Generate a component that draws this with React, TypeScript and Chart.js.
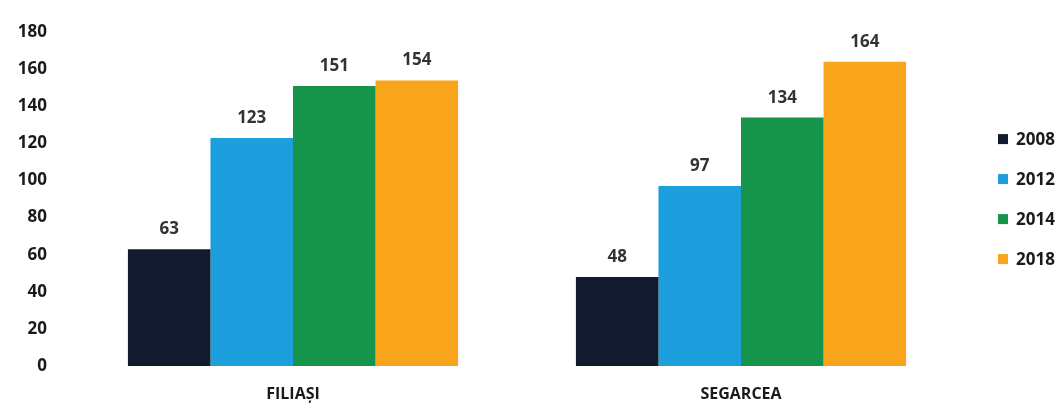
import React, { useEffect, useRef } from "react";
import { Chart, registerables } from "chart.js";

Chart.register(...registerables);

const categories = ["FILIAȘI", "SEGARCEA"];
const seriesNames = ["2008", "2012", "2014", "2018"];
const values2008 = [63, 48];
const values2012 = [123, 97];
const values2014 = [151, 134];
const values2018 = [154, 164];
const seriesColors = ["#111a2e", "#1d9fdd", "#15954b", "#f9a51b"];
const yTicks = [0, 20, 40, 60, 80, 100, 120, 140, 160, 180];

const FONT = "'Open Sans', 'DejaVu Sans', sans-serif";

const valueLabels = {
  id: "valueLabels",
  afterDatasetsDraw(chart: any) {
    const ctx = chart.ctx;
    ctx.save();
    ctx.font = `bold 17px ${FONT}`;
    ctx.fillStyle = "#333333";
    ctx.textAlign = "center";
    ctx.textBaseline = "alphabetic";
    chart.data.datasets.forEach((ds: any, i: number) => {
      const meta = chart.getDatasetMeta(i);
      meta.data.forEach((el: any, j: number) => {
        ctx.fillText(String(ds.data[j]), el.x, el.y - 15);
      });
    });
    ctx.restore();
  },
};

const sideLegend = {
  id: "sideLegend",
  afterDraw(chart: any) {
    const ctx = chart.ctx;
    const area = chart.chartArea;
    const n = chart.data.datasets.length;
    const spacing = 40;
    const midY = (area.top + area.bottom) / 2;
    const startY = midY - ((n - 1) * spacing) / 2;
    const boxX = area.right + 33;
    ctx.save();
    ctx.font = `bold 17px ${FONT}`;
    ctx.textAlign = "left";
    ctx.textBaseline = "middle";
    chart.data.datasets.forEach((ds: any, i: number) => {
      const y = startY + i * spacing;
      ctx.fillStyle = ds.backgroundColor;
      ctx.fillRect(boxX, y - 5, 10, 10);
      ctx.fillStyle = "#1a1a1a";
      ctx.fillText(ds.label, boxX + 18, y + 1);
    });
    ctx.restore();
  },
};

export default function App() {
  const canvasRef = useRef<HTMLCanvasElement>(null);

  useEffect(() => {
    if (!canvasRef.current) return;
    const seriesData = [values2008, values2012, values2014, values2018];
    const chart = new Chart(canvasRef.current, {
      type: "bar",
      data: {
        labels: categories,
        datasets: seriesNames.map((name, i) => ({
          label: name,
          data: seriesData[i],
          backgroundColor: seriesColors[i],
          borderWidth: 0,
          barPercentage: 1,
          categoryPercentage: 0.737,
        })),
      },
      options: {
        animation: false,
        responsive: true,
        maintainAspectRatio: false,
        layout: { padding: { top: 30, right: 97, left: 0, bottom: 0 } },
        plugins: {
          legend: { display: false },
          tooltip: { enabled: false },
        },
        scales: {
          x: {
            grid: { display: false, drawTicks: false },
            border: { display: false },
            ticks: {
              padding: 19,
              color: "#1a1a1a",
              font: { family: FONT, size: 16, weight: "bold" },
            },
            afterFit: (s: any) => {
              s.height = 39;
            },
          },
          y: {
            min: 0,
            max: 180,
            grid: { display: false, drawTicks: false },
            border: { display: false },
            afterBuildTicks: (s: any) => {
              s.ticks = yTicks.map((v) => ({ value: v }));
            },
            ticks: {
              padding: 22,
              color: "#1a1a1a",
              font: { family: FONT, size: 17, weight: "bold" },
            },
            afterFit: (s: any) => {
              s.width = 69;
            },
          },
        },
      },
      plugins: [valueLabels, sideLegend],
    });
    return () => chart.destroy();
  }, []);

  return (
    <div style={{ position: "fixed", left: 0, top: 0, width: 1062, height: 405, background: "#fff" }}>
      <canvas ref={canvasRef} />
    </div>
  );
}
